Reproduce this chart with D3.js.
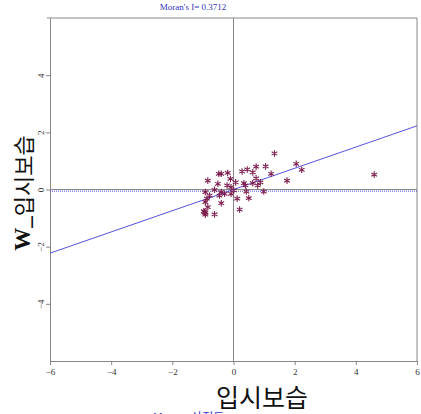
<!DOCTYPE html>
<html><head><meta charset="utf-8">
<script src="https://cdn.jsdelivr.net/npm/d3@7"></script>
<style>body{margin:0;background:#fff}svg{display:block}</style>
</head><body>
<script>
const title = "Moran's I= 0.3712";
const xLabel = "입시보습";
const yLabelPrefix = "W_";
const yLabelMain = "입시보습";
const subtitle = "Moran 산점도";
const slope = 0.3712;
const meanW = -0.04;
const xTicks = [-6,-4,-2,0,2,4,6];
const yTicks = [-4,-2,0,2,4];
const xs = [1.34,2.05,2.23,1.75,1.05,0.74,1.23,0.45,0.28,0.63,0.74,0.88,0.79,0.99,0.63,0.34,0.42,0.50,0.20,0.12,0.01,0.07,-0.10,-0.19,-0.40,-0.48,-0.84,-0.51,-0.62,-0.40,-0.21,-0.29,-0.08,-0.08,-0.92,-0.78,-0.46,-0.87,-0.92,-0.40,-0.84,-0.95,-0.92,-0.97,-0.92,-0.62,0.39,4.60];
const ys = [1.26,0.90,0.69,0.31,0.81,0.80,0.55,0.70,0.63,0.60,0.39,0.25,0.14,-0.07,0.22,0.22,-0.07,-0.30,-0.70,-0.32,-0.03,0.25,0.37,0.58,0.55,0.55,0.31,0.20,-0.01,-0.09,0.14,-0.15,-0.15,0.08,-0.09,-0.21,-0.21,-0.32,-0.44,-0.48,-0.62,-0.79,-0.82,-0.76,-0.88,-0.87,0.14,0.52];

const W = 421, H = 414;
const L = 50, R = 417, T = 18, B = 361;
const svg = d3.select("body").append("svg").attr("width", W).attr("height", H);
const x = d3.scaleLinear().domain([-6,6]).range([L,R]);
const y = d3.scaleLinear().domain([-6,6]).range([B,T]);
const gray = "#888";
const serif = "'Liberation Serif','Times New Roman',serif";
const kr = "'Noto Sans CJK KR',sans-serif";

// frame top and right
svg.append("line").attr("x1",L-3).attr("x2",R).attr("y1",T).attr("y2",T).attr("stroke",gray);
svg.append("line").attr("x1",R).attr("x2",R).attr("y1",T).attr("y2",B).attr("stroke",gray);

// axes
const xa = svg.append("g").attr("transform",`translate(0,${B})`)
  .call(d3.axisBottom(x).tickValues(xTicks).tickSize(4).tickSizeOuter(0).tickFormat(d3.format("d")));
const ya = svg.append("g").attr("transform",`translate(${L},0)`)
  .call(d3.axisLeft(y).tickValues(yTicks).tickSize(4).tickSizeOuter(0).tickFormat(d3.format("d")));
[xa,ya].forEach(g=>{
  g.select(".domain").attr("stroke",gray);
  g.selectAll(".tick line").attr("stroke",gray);
  g.selectAll("text").attr("font-family",serif).attr("font-size",9).attr("fill","#333");
});
ya.selectAll(".tick text").attr("x",null).attr("dy",null).attr("text-anchor","middle")
  .attr("transform","translate(-9,0) rotate(-90)").attr("dy","0.3em");
xa.selectAll(".tick text").attr("dy","0.8em");

// zero lines
svg.append("line").attr("x1",x(0)).attr("x2",x(0)).attr("y1",T).attr("y2",B).attr("stroke",gray);
svg.append("line").attr("x1",L).attr("x2",R).attr("y1",y(0)).attr("y2",y(0)).attr("stroke",gray);
// mean W dotted
svg.append("line").attr("x1",L).attr("x2",R).attr("y1",y(meanW)+0.5).attr("y2",y(meanW)+0.5)
  .attr("stroke","#4a4ad0").attr("stroke-dasharray","1,1");
// regression line
svg.append("line").attr("x1",x(-6)).attr("x2",x(6)).attr("y1",y(-6*slope)).attr("y2",y(6*slope))
  .attr("stroke","#4040d8").attr("stroke-width",0.9);

// points
const sym = d3.symbol().type(d3.symbolAsterisk).size(30);
svg.append("g").selectAll("path").data(xs.map((v,i)=>[v,ys[i]])).join("path")
  .attr("d",sym).attr("transform",d=>`translate(${x(d[0])},${y(d[1])})`)
  .attr("fill","none").attr("stroke","#7d1d4e").attr("stroke-width",1.1);

// title
svg.append("text").attr("x",193).attr("y",10).attr("text-anchor","middle")
  .attr("font-family",serif).attr("font-size",9).attr("fill","#3333bb").text(title);
// x label
svg.append("text").attr("x",262).attr("y",407).attr("text-anchor","middle")
  .attr("font-family",kr).attr("font-size",25).attr("fill","#111").text(xLabel);
// y label
const yl = svg.append("text").attr("transform","translate(22,193) rotate(-90)").attr("text-anchor","middle")
  .attr("dominant-baseline","central").attr("fill","#111");
yl.append("tspan").attr("font-family",serif).attr("font-weight","bold").attr("font-size",23).text(yLabelPrefix);
yl.append("tspan").attr("font-family",kr).attr("font-size",22).text(yLabelMain);
// cut-off subtitle at bottom
svg.append("text").attr("x",153).attr("y",422).attr("font-family",kr)
  .attr("font-size",12).attr("fill","#3333cc").text(subtitle);
</script>
</body></html>
